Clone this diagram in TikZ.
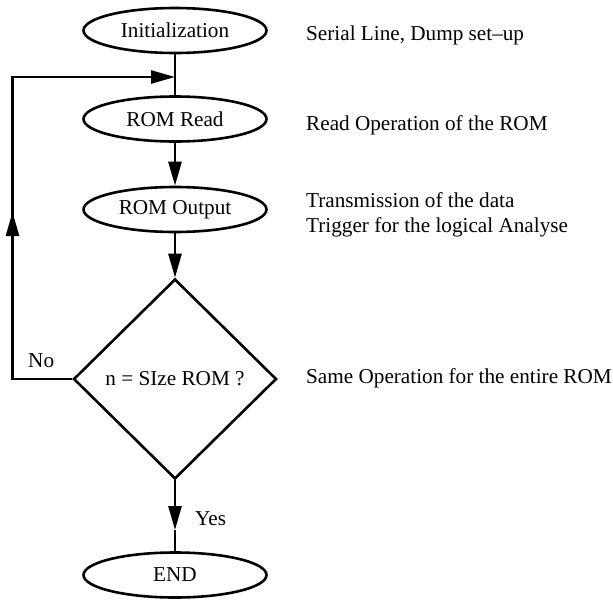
\documentclass[tikz,border=0pt]{standalone}
\usepackage{fontspec}
\setmainfont{Liberation Serif}
\usetikzlibrary{shapes.geometric,arrows.meta}
\tikzset{
  base/.style={font=\fontsize{21.2}{25}\selectfont},
  oval/.style={base,ellipse,draw,line width=2.6pt,minimum width=183pt,minimum height=45pt,inner sep=0pt},
  decision/.style={base,diamond,draw,line width=2.6pt,minimum width=203pt,minimum height=200pt,inner sep=0pt},
  conn/.style={line width=2.6pt},
  arr/.style={conn,-{Triangle[length=24pt,width=13pt]}},
  note/.style={base,anchor=base west,inner sep=0pt},
}
\begin{document}
\begin{tikzpicture}[x=1pt,y=-1pt]
\useasboundingbox (0,0) rectangle (613,600);
\node[oval] (init) at (175,30.5) {\raisebox{-2pt}{Initialization}};
\node[oval] (read) at (175,119) {ROM Read};
\node[oval] (out) at (175,209.5) {ROM Output};
\node[decision] (dec) at (175,379) {\raisebox{-3pt}{n = SIze ROM ?}};
\node[oval] (end) at (175,575) {\raisebox{-3pt}{END}};
\coordinate (j) at (175,77);
\coordinate (lb) at (12.5,379);
\coordinate (la) at (12.5,212);
\coordinate (ya) at (175,530);
\draw[conn] (init) -- (read);
\draw[arr] (read) -- (out);
\draw[arr] (out) -- (dec);
\draw[conn] (dec.west) -- (lb) -- (la);
\draw[arr] (lb) -- (la);
\draw[arr] (la) |- (j);
\draw[arr] (dec.south) -- (ya);
\draw[conn] (ya) -- (end);
\node[note] (no) at (28,367) {No};
\node[note] (yes) at (195,525) {Yes};
\node[note] (t1) at (306,40) {Serial Line, Dump set–up};
\node[note] (t2) at (306,130) {Read Operation of the ROM};
\node[note] (t3) at (306,207) {Transmission of the data};
\node[note] (t4) at (306,232) {Trigger for the logical Analyse};
\node[note] (t5) at (306,383) {Same Operation for the entire ROM};
\end{tikzpicture}
\end{document}
